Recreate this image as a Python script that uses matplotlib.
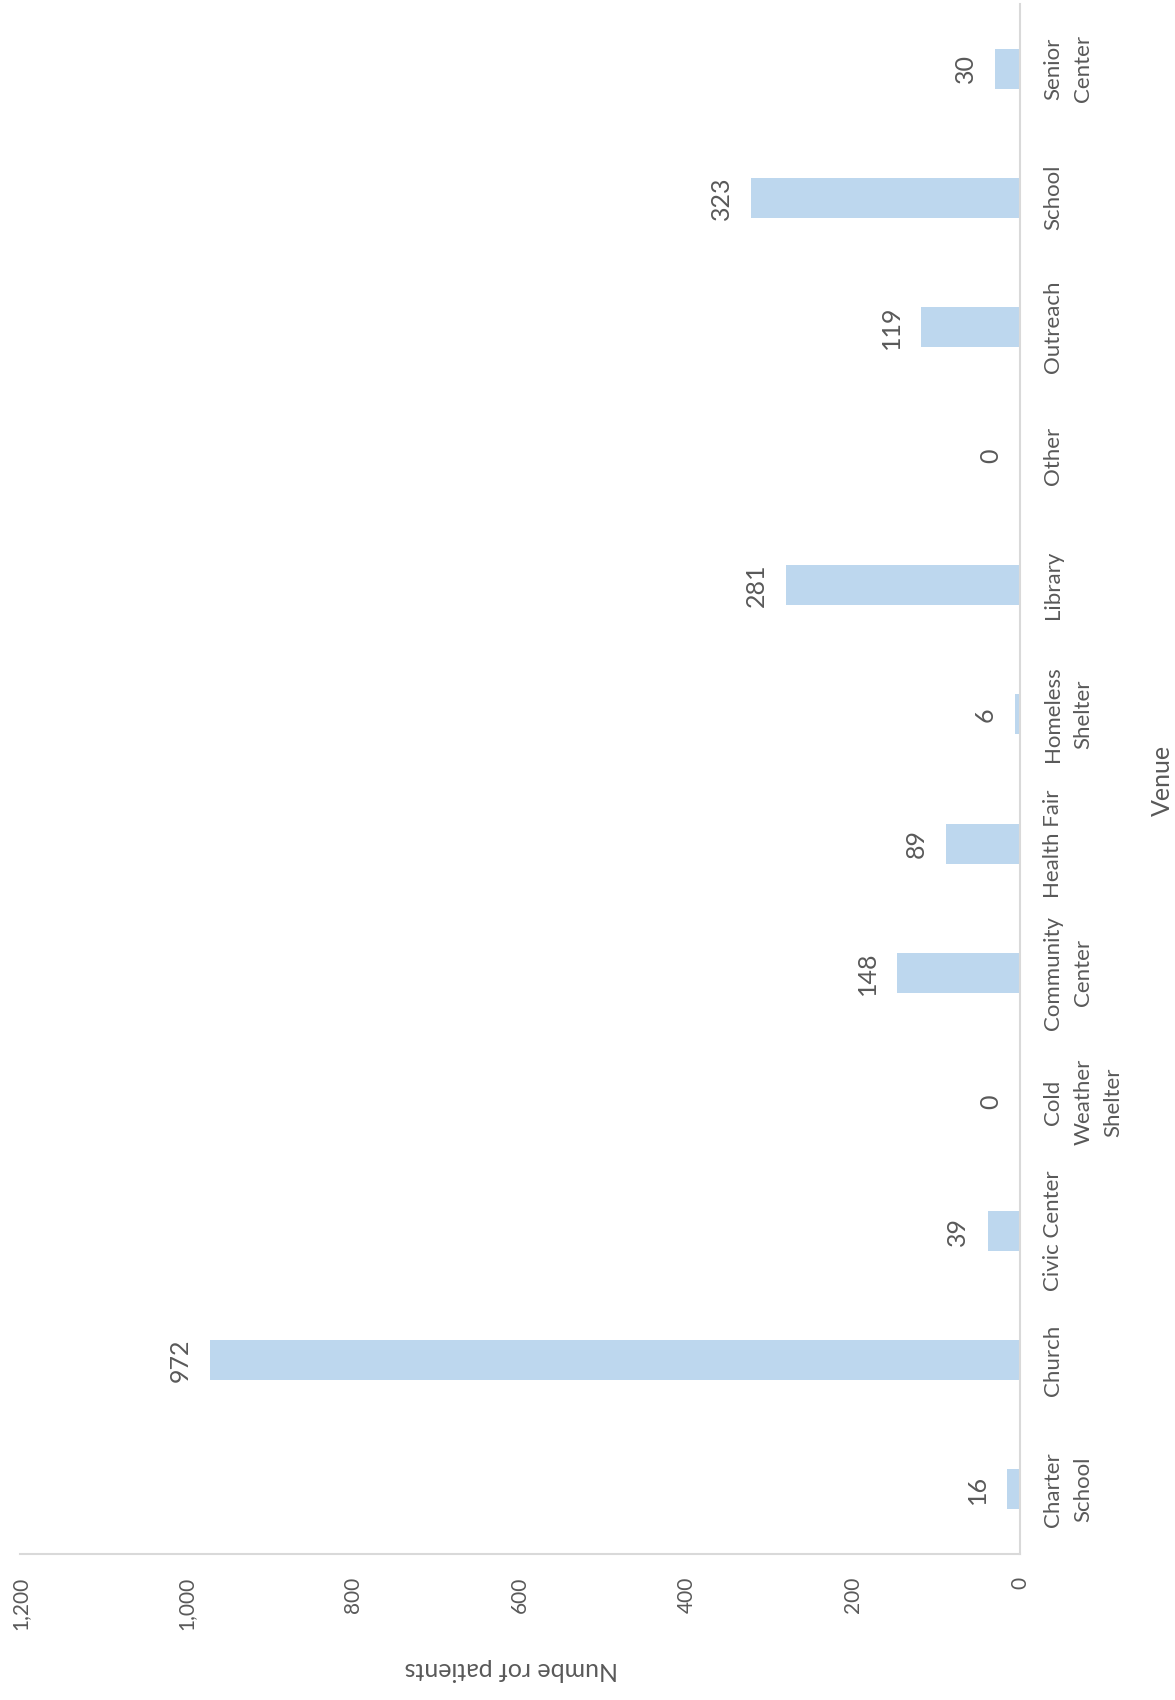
import numpy as np
import matplotlib
matplotlib.use("Agg")
import matplotlib.pyplot as plt

# Venue data (chart is drawn turned on its side, like the reference)
venues = ["Charter\nSchool", "Church", "Civic Center", "Cold\nWeather\nShelter",
          "Community\nCenter", "Health Fair", "Homeless\nShelter", "Library",
          "Other", "Outreach", "School", "Senior\nCenter"]
patients = [16, 972, 39, 0, 148, 89, 6, 281, 0, 119, 323, 30]
value_ticks = [0, 200, 400, 600, 800, 1000, 1200]
value_tick_labels = ["0", "200", "400", "600", "800", "1,000", "1,200"]

BAR = "#BDD7EE"
LINE = "#D9D9D9"
TEXT = "#595959"

plt.rcParams['font.family'] = ['Lato', 'DejaVu Sans']

W, H = 1175, 1700
fig = plt.figure(figsize=(W / 100, H / 100), dpi=100)
ax = fig.add_axes([20 / W, (H - 1554) / H, (1020 - 20) / W, (1554 - 4) / H])

pos = np.arange(len(venues))
ax.barh(pos, patients, height=0.31, color=BAR)

ax.set_xlim(1200, 0)
ax.set_ylim(-0.5, len(venues) - 0.5)

# data labels
for y, v in zip(pos, patients):
    ax.annotate(str(v), (v, y), xytext=(-13, 0), textcoords='offset points',
                ha='right', va='center', rotation=90, fontsize=18, color=TEXT)

# category axis on the right
ax.yaxis.tick_right()
ax.set_yticks(pos)
ax.set_yticklabels(venues, rotation=90, va='center', ha='left',
                   fontsize=16, color=TEXT)
for lbl in ax.get_yticklabels():
    lbl.set_multialignment('center')
    lbl.set_linespacing(1.65)
ax.tick_params(axis='y', length=0, pad=16.5)

# value axis at the bottom
ax.set_xticks(value_ticks)
ax.set_xticklabels(value_tick_labels, rotation=90, ha='center', va='top',
                   fontsize=15, color=TEXT)
ax.tick_params(axis='x', length=0, pad=16.5)

for side in ['top', 'left']:
    ax.spines[side].set_visible(False)
for side in ['right', 'bottom']:
    ax.spines[side].set_color(LINE)
    ax.spines[side].set_linewidth(1.5)

fig.text(511 / W, 1 - 1669 / H, "Numbe rof patients", rotation=180,
         ha='center', va='center', fontsize=18, color=TEXT)
fig.text(1162 / W, 1 - 780 / H, "Venue", rotation=90,
         ha='center', va='center', fontsize=18, color=TEXT)

fig.savefig("out.png", dpi=100, facecolor="white")
